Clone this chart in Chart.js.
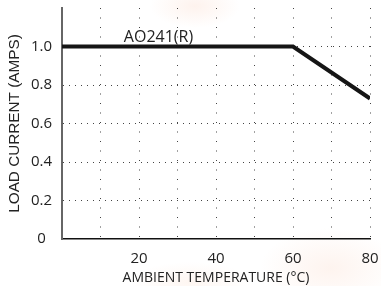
<!DOCTYPE html>
<html>
<head>
<meta charset="utf-8">
<script src="https://cdn.jsdelivr.net/npm/chart.js@4/dist/chart.umd.min.js"></script>
<style>
  html, body { margin: 0; padding: 0; }
  body {
    width: 381px; height: 286px; overflow: hidden;
    background:
      radial-gradient(ellipse 45px 22px at 195px 6px, rgba(250,205,185,0.25), rgba(255,255,255,0) 100%),
      radial-gradient(ellipse 70px 40px at 330px 268px, rgba(250,210,190,0.25), rgba(255,255,255,0) 100%),
      radial-gradient(ellipse 60px 20px at 190px 282px, rgba(250,215,195,0.22), rgba(255,255,255,0) 100%),
      #ffffff;
  }
  #wrap { position: relative; width: 381px; height: 286px; }
</style>
</head>
<body>
<div id="wrap"><canvas id="c"></canvas></div>
<script>
// ---- data ----
const temps = [0, 60, 80];                 // ambient temperature (°C)
const current = [1.0, 1.0, 0.73];          // load current (A)
const xLabeledTicks = [20, 40, 60, 80];
const yLabeledTicks = [0, 0.2, 0.4, 0.6, 0.8, 1.0];
const seriesLabel = 'AO241(R)';
const xTitle = 'AMBIENT TEMPERATURE (°C)';
const yTitle = 'LOAD CURRENT (AMPS)';

const points = temps.map((t, i) => ({ x: t, y: current[i] }));

const labelPlugin = {
  id: 'seriesLabel',
  afterDatasetsDraw(chart) {
    const { ctx, scales } = chart;
    const x = scales.x.getPixelForValue(25.06);
    const y = scales.y.getPixelForValue(1.0) - 5;
    ctx.save();
    ctx.font = '16px "Open Sans"';
    ctx.fillStyle = '#222';
    ctx.textAlign = 'center';
    ctx.textBaseline = 'alphabetic';
    ctx.fillText(seriesLabel, x, y);
    ctx.restore();
  }
};

const round1 = v => Math.round(v * 10) / 10;

new Chart(document.getElementById('c'), {
  type: 'line',
  data: {
    datasets: [{
      label: seriesLabel,
      data: points,
      borderColor: '#151515',
      borderWidth: 4,
      pointRadius: 0,
      tension: 0,
      fill: false
    }]
  },
  options: {
    responsive: true,
    maintainAspectRatio: false,
    animation: false,
    layout: { padding: { top: 8, right: 11, left: 0, bottom: 0 } },
    plugins: { legend: { display: false }, tooltip: { enabled: false } },
    scales: {
      x: {
        type: 'linear',
        min: 0, max: 80,
        afterFit(scale) {
          scale.height = 47;
          scale.paddingLeft = 0; scale.paddingRight = 0;
        },
        ticks: {
          stepSize: 10,
          autoSkip: false,
          maxRotation: 0,
          padding: 11,
          color: '#222',
          font: { family: '"Open Sans"', size: 15 },
          callback: v => xLabeledTicks.includes(v) ? String(v) : ''
        },
        grid: {
          drawTicks: false,
          color: ctx => (ctx.tick && ctx.tick.value === 0) ? 'rgba(0,0,0,0)' : '#444',
          lineWidth: 1
        },
        border: { display: true, color: '#111', width: 1.5, dash: [1, 8.5] },
        title: {
          display: true,
          text: xTitle,
          color: '#222',
          font: { family: '"Open Sans"', size: 14 },
          padding: { top: 0, bottom: 0 }
        }
      },
      y: {
        min: 0, max: 1.2,
        afterFit(scale) {
          scale.width = 62;
          scale.paddingTop = 0; scale.paddingBottom = 0;
        },
        ticks: {
          stepSize: 0.2,
          autoSkip: false,
          padding: 10,
          crossAlign: 'center',
          color: '#222',
          font: { family: '"Open Sans"', size: 15 },
          callback: v => {
            const r = round1(v);
            if (!yLabeledTicks.includes(r)) return '';
            return r === 0 ? '0' : r.toFixed(1);
          }
        },
        grid: {
          drawTicks: false,
          color: ctx => {
            if (!ctx.tick) return '#444';
            const r = round1(ctx.tick.value);
            return (r === 0 || r > 1.1) ? 'rgba(0,0,0,0)' : '#444';
          },
          lineWidth: 1
        },
        border: { display: true, color: '#666', width: 2, dash: [1, 5] },
        title: {
          display: true,
          text: yTitle,
          color: '#222',
          font: { family: '"Liberation Sans"', size: 15.3 },
          padding: { top: 6, bottom: 0 }
        }
      }
    }
  },
  plugins: [labelPlugin]
});
</script>
</body>
</html>
